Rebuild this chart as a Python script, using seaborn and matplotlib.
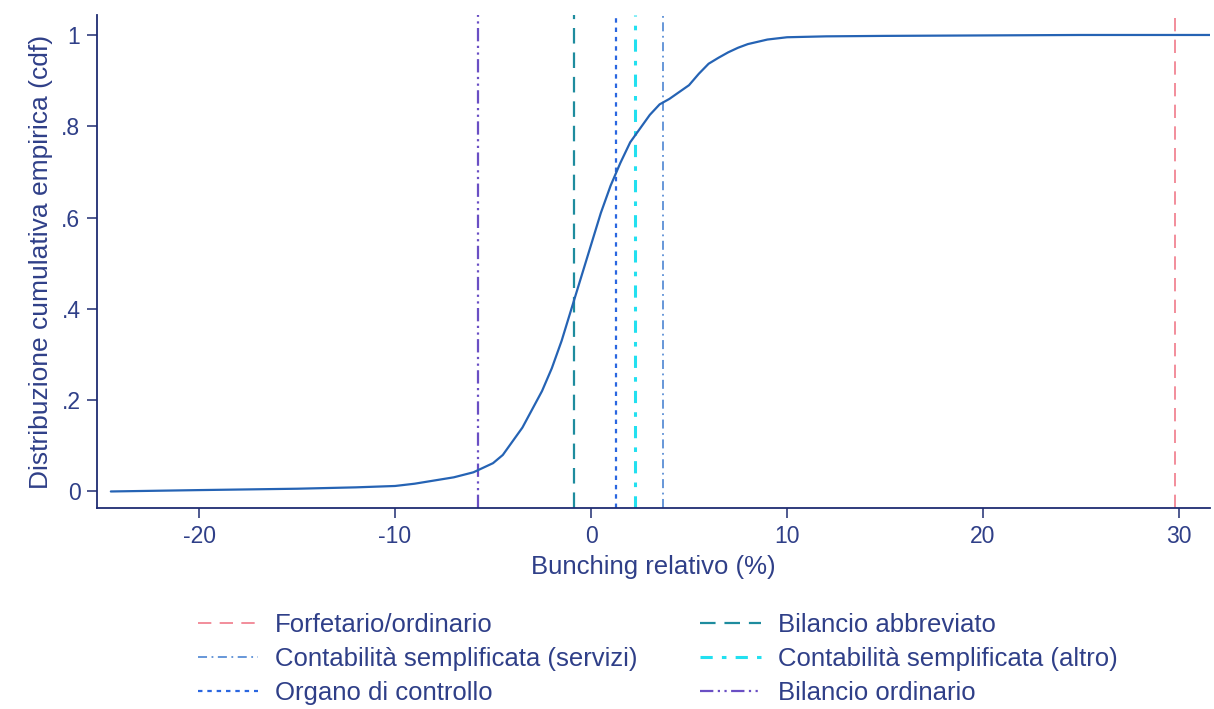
import numpy as np
import pandas as pd
import matplotlib
matplotlib.use("Agg")
import matplotlib.pyplot as plt
import seaborn as sns

bunching = [-24.5, -20, -15, -12, -10, -9, -8, -7, -6, -5, -4.5, -4, -3.5, -3, -2.5,
            -2, -1.5, -1, -0.5, 0, 0.5, 1, 1.5, 2, 2.5, 3, 3.5, 4, 4.5, 5, 5.5, 6,
            6.5, 7, 7.5, 8, 9, 10, 12, 15, 20, 25, 31.6]
cdf = [0.0, 0.003, 0.006, 0.009, 0.012, 0.017, 0.024, 0.031, 0.042, 0.062, 0.08, 0.11,
       0.14, 0.18, 0.22, 0.27, 0.33, 0.40, 0.47, 0.54, 0.61, 0.67, 0.72, 0.765, 0.795,
       0.825, 0.848, 0.86, 0.875, 0.89, 0.915, 0.937, 0.95, 0.962, 0.972, 0.98,
       0.99, 0.995, 0.997, 0.998, 0.999, 1.0, 1.0]

# Thresholds (vertical lines)
thr_labels = ["Forfetario/ordinario", "Contabilità semplificata (servizi)",
              "Organo di controllo", "Bilancio abbreviato",
              "Contabilità semplificata (altro)", "Bilancio ordinario"]
thr_values = [29.8, 3.65, 1.27, -0.86, 2.23, -5.75]
thr_colors = ["#f07a8a", "#5b8fd6", "#2a66e0", "#1e8c9e", "#22e0f0", "#6a4fc4"]
thr_styles = [(0, (8, 5)), (0, (5, 2.5, 1, 2.5)), (0, (2, 2.2)), (0, (7, 4)),
              (0, (4, 3, 1.5, 3)), (0, (6, 2, 1, 2, 1, 2))]
thr_widths = [1.2, 1.3, 1.6, 1.6, 2.2, 1.6]

xticks = [-20, -10, 0, 10, 20, 30]
yticks = [0, 0.2, 0.4, 0.6, 0.8, 1.0]
ytick_labels = ["0", ".2", ".4", ".6", ".8", "1"]

sns.set_theme(style="white")
plt.rcParams['font.family'] = ['Liberation Sans', 'DejaVu Sans']

navy = "#1f2c72"
txt = "#2f3f88"

fig = plt.figure(figsize=(12.14, 7.09), dpi=100)
ax = fig.add_axes([0.080, 0.283, 0.917, 0.696])

df = pd.DataFrame({"x": bunching, "y": cdf})
sns.lineplot(data=df, x="x", y="y", ax=ax, color="#2563b4", linewidth=1.6, zorder=3)

for lab, v, c, ls, lw in zip(thr_labels, thr_values, thr_colors, thr_styles, thr_widths):
    ax.axvline(v, color=c, linestyle=ls, linewidth=lw, label=lab, zorder=2)

ax.set_xlim(-25.2, 31.6)
ax.set_ylim(-0.037, 1.044)
ax.set_xticks(xticks)
ax.set_xticklabels([str(t) for t in xticks])
ax.set_yticks(yticks)
ax.set_yticklabels(ytick_labels)

for s in ["top", "right"]:
    ax.spines[s].set_visible(False)
for s in ["left", "bottom"]:
    ax.spines[s].set_color(navy)
    ax.spines[s].set_linewidth(1.3)

ax.tick_params(axis="both", direction="out", length=7, width=1.1, color=navy,
               labelcolor=txt, labelsize=16.5, left=True, bottom=True, pad=5)
ax.set_xlabel("Bunching relativo (%)", fontsize=18.5, color=txt, labelpad=5)
ax.set_ylabel("Distribuzione cumulativa empirica (cdf)", fontsize=19, color=txt, labelpad=6)

leg = fig.legend(loc="upper left", bbox_to_anchor=(0.163, 0.136), ncol=2,
                 frameon=False, fontsize=18.5, handlelength=2.35, handletextpad=0.65,
                 columnspacing=2.45, labelspacing=0.4, borderaxespad=0,
                 borderpad=0)
for t in leg.get_texts():
    t.set_color(txt)

fig.savefig("out.png", dpi=100, facecolor="white")
